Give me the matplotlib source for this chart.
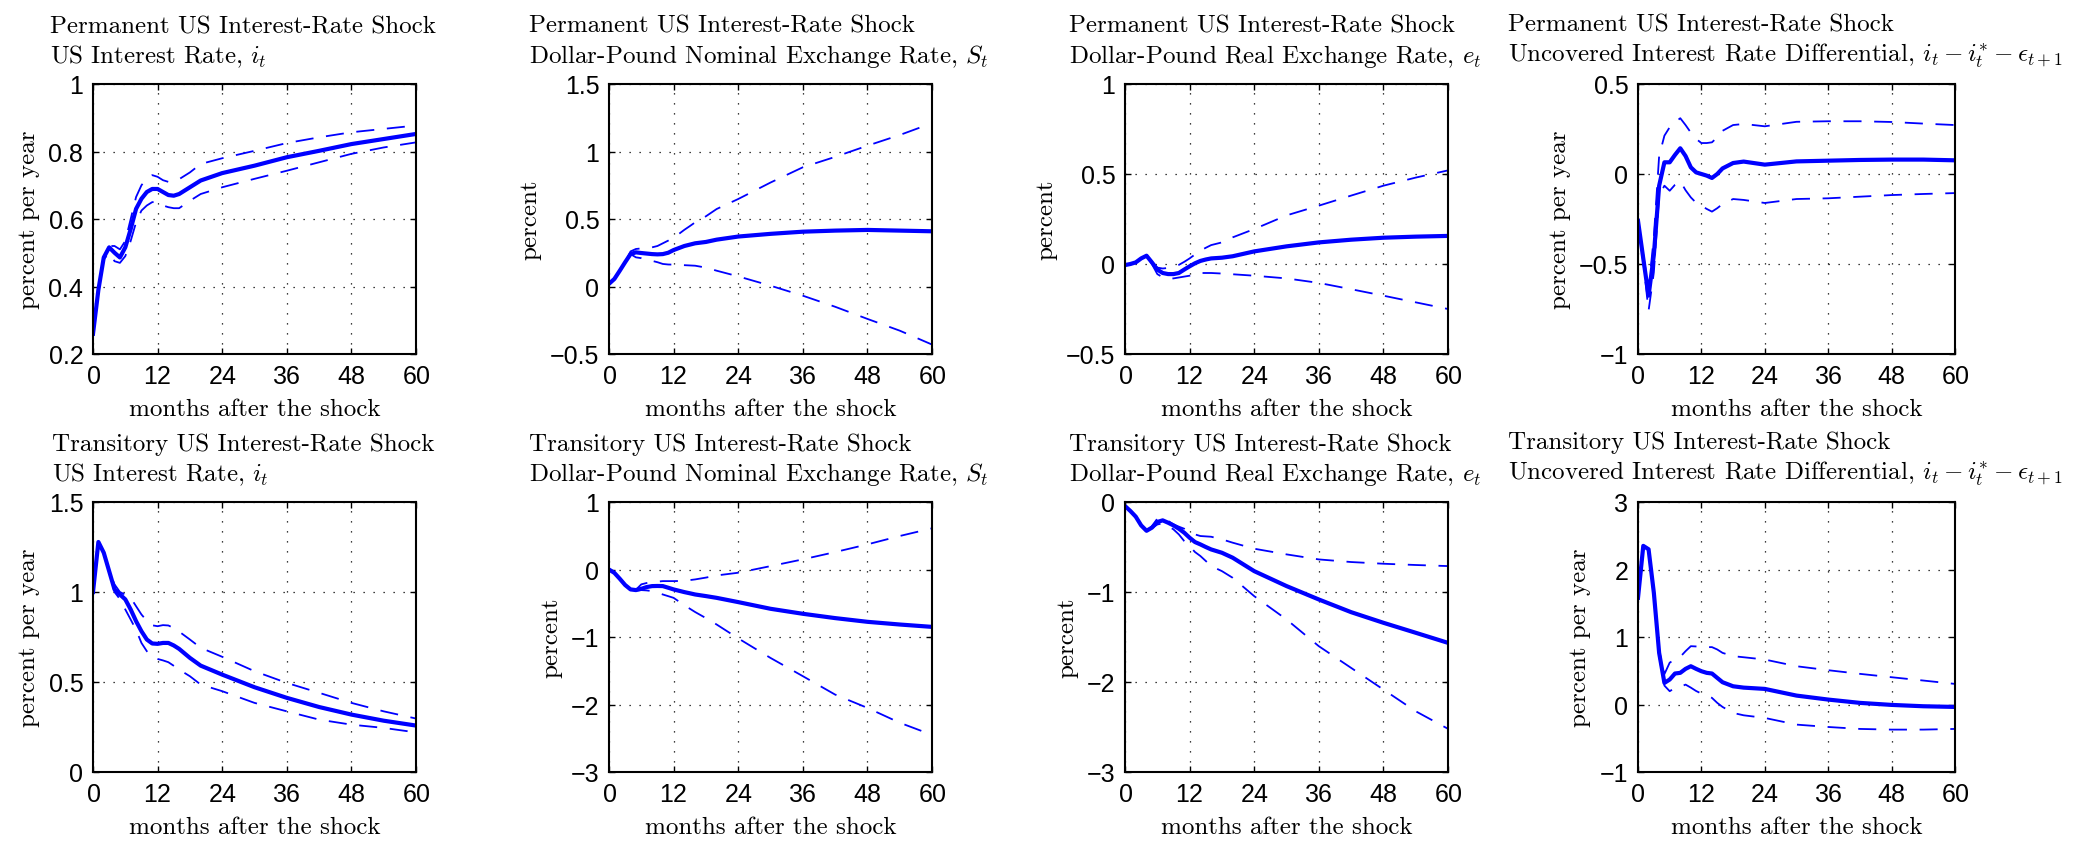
"""Impulse responses to permanent and transitory US interest-rate shocks.

Run:
    python plot.py   -> out.png
"""

import matplotlib
matplotlib.use("Agg")  # headless, no display
import matplotlib.pyplot as plt  # noqa: E402
from matplotlib.ticker import FuncFormatter, MultipleLocator  # noqa: E402

plt.rcParams["font.family"] = "cmr10"
plt.rcParams["mathtext.fontset"] = "cm"
plt.rcParams["axes.formatter.use_mathtext"] = True

months = [0, 1, 2, 3, 4, 5, 6, 7, 8, 9, 10, 11, 12, 13, 14, 15, 16,
          18, 20, 24, 30, 36, 42, 48, 54, 60]

# --- permanent shock -------------------------------------------------------
perm_i_mid = [0.26, 0.39, 0.486, 0.516, 0.50, 0.486, 0.516, 0.57, 0.63, 0.66, 0.68, 0.689, 0.689,
              0.68, 0.671, 0.669, 0.674, 0.694, 0.714, 0.736, 0.758, 0.783, 0.802, 0.822, 0.837, 0.852]
perm_i_hi = [0.26, 0.39, 0.49, 0.52, 0.52, 0.51, 0.535, 0.60, 0.665, 0.70, 0.72, 0.73, 0.725,
             0.715, 0.71, 0.712, 0.718, 0.738, 0.763, 0.78, 0.802, 0.825, 0.842, 0.857, 0.867, 0.877]
perm_i_lo = [0.26, 0.39, 0.48, 0.50, 0.475, 0.47, 0.49, 0.535, 0.59, 0.625, 0.64, 0.65, 0.65,
             0.64, 0.635, 0.632, 0.632, 0.654, 0.674, 0.694, 0.719, 0.743, 0.768, 0.793, 0.812, 0.827]

perm_s_mid = [0.02, 0.056, 0.117, 0.18, 0.24, 0.253, 0.248, 0.244, 0.24, 0.238, 0.24, 0.25, 0.27,
              0.285, 0.30, 0.31, 0.32, 0.33, 0.347, 0.37, 0.39, 0.406, 0.414, 0.419, 0.414, 0.409]
perm_s_hi = [0.02, 0.056, 0.117, 0.18, 0.26, 0.278, 0.282, 0.286, 0.29, 0.30, 0.32, 0.34, 0.364,
             0.39, 0.42, 0.447, 0.475, 0.52, 0.574, 0.648, 0.77, 0.883, 0.96, 1.043, 1.122, 1.21]
perm_s_lo = [0.02, 0.056, 0.117, 0.18, 0.24, 0.216, 0.21, 0.20, 0.19, 0.18, 0.167, 0.163, 0.162,
             0.16, 0.158, 0.156, 0.154, 0.14, 0.117, 0.075, 0.006, -0.068, -0.15, -0.24, -0.327, -0.43]

perm_e_mid = [-0.006, 0.0, 0.009, 0.031, 0.046, 0.009, -0.031, -0.05, -0.056, -0.056, -0.05, -0.031, -0.013,
              0.004, 0.017, 0.025, 0.031, 0.035, 0.043, 0.07, 0.098, 0.12, 0.135, 0.146, 0.152, 0.156]
perm_e_hi = [-0.006, 0.0, 0.009, 0.031, 0.046, 0.01, -0.02, -0.025, -0.022, -0.015, -0.005, 0.012, 0.031,
             0.053, 0.074, 0.09, 0.105, 0.12, 0.148, 0.194, 0.27, 0.324, 0.38, 0.435, 0.48, 0.52]
perm_e_lo = [-0.006, 0.0, 0.009, 0.031, 0.046, 0.0, -0.056, -0.074, -0.083, -0.08, -0.075, -0.07, -0.065,
             -0.057, -0.05, -0.05, -0.05, -0.053, -0.057, -0.065, -0.08, -0.105, -0.14, -0.176, -0.213, -0.25]

perm_u_mid = [-0.26, -0.47, -0.676, -0.45, -0.065, 0.065, 0.065, 0.106, 0.143, 0.10, 0.037, 0.009, 0.0,
              -0.009, -0.022, 0.0, 0.031, 0.061, 0.069, 0.052, 0.07, 0.074, 0.078, 0.08, 0.08, 0.076]
perm_u_hi = [-0.26, -0.45, -0.64, -0.35, 0.10, 0.213, 0.26, 0.287, 0.31, 0.272, 0.23, 0.195, 0.172,
             0.172, 0.176, 0.204, 0.24, 0.272, 0.278, 0.265, 0.29, 0.293, 0.293, 0.289, 0.28, 0.272]
perm_u_lo = [-0.26, -0.49, -0.76, -0.546, -0.12, -0.065, -0.093, -0.06, -0.04, -0.09, -0.13, -0.16, -0.176,
             -0.194, -0.209, -0.19, -0.167, -0.139, -0.144, -0.161, -0.139, -0.135, -0.126, -0.117, -0.111, -0.106]

# --- transitory shock ------------------------------------------------------
tran_i_mid = [1.0, 1.278, 1.218, 1.116, 1.014, 0.986, 0.959, 0.903, 0.838, 0.782, 0.736, 0.714, 0.712,
              0.717, 0.717, 0.703, 0.684, 0.634, 0.591, 0.541, 0.471, 0.412, 0.361, 0.319, 0.285, 0.258]
tran_i_hi = [1.0, 1.278, 1.218, 1.116, 1.042, 1.0, 0.985, 0.968, 0.921, 0.875, 0.84, 0.815, 0.81,
             0.816, 0.814, 0.80, 0.78, 0.736, 0.69, 0.64, 0.56, 0.495, 0.44, 0.384, 0.337, 0.297]
tran_i_lo = [1.0, 1.278, 1.218, 1.116, 1.0, 0.96, 0.903, 0.847, 0.79, 0.717, 0.671, 0.64, 0.628,
             0.62, 0.61, 0.59, 0.569, 0.532, 0.486, 0.449, 0.384, 0.337, 0.291, 0.263, 0.245, 0.22]

tran_s_mid = [0.0, -0.05, -0.137, -0.23, -0.295, -0.305, -0.286, -0.26, -0.246, -0.244, -0.246, -0.27, -0.295,
              -0.315, -0.335, -0.352, -0.37, -0.394, -0.42, -0.483, -0.582, -0.656, -0.72, -0.775, -0.815, -0.85]
tran_s_hi = [0.0, -0.05, -0.137, -0.23, -0.295, -0.30, -0.22, -0.20, -0.187, -0.18, -0.172, -0.172, -0.172,
             -0.17, -0.167, -0.157, -0.147, -0.12, -0.088, -0.048, 0.05, 0.15, 0.258, 0.372, 0.496, 0.61]
tran_s_lo = [0.0, -0.05, -0.137, -0.23, -0.295, -0.31, -0.305, -0.31, -0.32, -0.345, -0.37, -0.395, -0.42,
             -0.475, -0.533, -0.58, -0.63, -0.72, -0.815, -1.02, -1.31, -1.58, -1.853, -2.05, -2.27, -2.45]

tran_e_mid = [-0.045, -0.1, -0.163, -0.26, -0.32, -0.285, -0.222, -0.204, -0.23, -0.26, -0.297, -0.341, -0.397,
              -0.445, -0.471, -0.5, -0.527, -0.564, -0.619, -0.768, -0.934, -1.083, -1.224, -1.342, -1.453, -1.565]
tran_e_hi = [-0.045, -0.1, -0.163, -0.26, -0.32, -0.27, -0.185, -0.18, -0.21, -0.248, -0.274, -0.297, -0.341,
             -0.36, -0.378, -0.382, -0.386, -0.415, -0.452, -0.519, -0.582, -0.638, -0.667, -0.686, -0.70, -0.712]
tran_e_lo = [-0.045, -0.1, -0.163, -0.26, -0.32, -0.29, -0.25, -0.237, -0.267, -0.304, -0.36, -0.434, -0.49,
             -0.556, -0.60, -0.655, -0.712, -0.768, -0.842, -1.046, -1.305, -1.602, -1.843, -2.084, -2.325, -2.52]

tran_u_mid = [1.58, 2.35, 2.30, 1.655, 0.765, 0.32, 0.37, 0.459, 0.469, 0.528, 0.567, 0.528, 0.493,
              0.469, 0.459, 0.394, 0.33, 0.27, 0.25, 0.231, 0.132, 0.073, 0.024, -0.006, -0.026, -0.036]
tran_u_hi = [1.58, 2.37, 2.33, 1.70, 0.80, 0.45, 0.62, 0.666, 0.706, 0.79, 0.864, 0.86, 0.855,
             0.85, 0.85, 0.815, 0.765, 0.716, 0.70, 0.666, 0.567, 0.508, 0.454, 0.404, 0.355, 0.305]
tran_u_lo = [1.58, 2.32, 2.27, 1.60, 0.72, 0.28, 0.197, 0.246, 0.261, 0.295, 0.25, 0.2, 0.162,
             0.132, 0.098, 0.024, -0.036, -0.125, -0.16, -0.199, -0.298, -0.333, -0.362, -0.372, -0.372, -0.362]

shock_names = ["Permanent US Interest-Rate Shock", "Transitory US Interest-Rate Shock"]
var_names = [
    r"US Interest Rate, $i_t$",
    r"Dollar-Pound Nominal Exchange Rate, $S_t$",
    r"Dollar-Pound Real Exchange Rate, $e_t$",
    r"Uncovered Interest Rate Differential, $i_t - i_t^{*} - \epsilon_{t+1}$",
]
ylabels = ["percent per year", "percent", "percent", "percent per year"]
xticks = [0, 12, 24, 36, 48, 60]

# (ylim, ytick step) per panel, row by row
ylims = [[(0.2, 1.0), (-0.5, 1.5), (-0.5, 1.0), (-1.0, 0.5)],
         [(0.0, 1.5), (-3.0, 1.0), (-3.0, 0.0), (-1.0, 3.0)]]
ysteps = [[0.2, 0.5, 0.5, 0.5],
          [0.5, 1.0, 1.0, 1.0]]

series = [
    [(perm_i_mid, perm_i_lo, perm_i_hi), (perm_s_mid, perm_s_lo, perm_s_hi),
     (perm_e_mid, perm_e_lo, perm_e_hi), (perm_u_mid, perm_u_lo, perm_u_hi)],
    [(tran_i_mid, tran_i_lo, tran_i_hi), (tran_s_mid, tran_s_lo, tran_s_hi),
     (tran_e_mid, tran_e_lo, tran_e_hi), (tran_u_mid, tran_u_lo, tran_u_hi)],
]

W, H = 2074, 845
LEFTS = [93, 609, 1125, 1638]
WIDTHS = [323, 323, 323, 317]
TOPS = [85, 503]
HEIGHT = 270
BLUE = (0, 0, 1)
TICK_FONT = "Liberation Sans"


def fmt_tick(v, _pos):
    s = f"{v:g}"
    return s.replace("-", "\u2212")


def draw_panel(ax, mid, lo, hi, ylim, ystep, title, ylabel):
    ax.plot(months, hi, color=BLUE, lw=1.3, dashes=(10, 7))
    ax.plot(months, lo, color=BLUE, lw=1.3, dashes=(10, 7))
    ax.plot(months, mid, color=BLUE, lw=3.0, solid_joinstyle="round")
    ax.set_xlim(0, 60)
    ax.set_ylim(*ylim)
    ax.set_xticks(xticks)
    ax.yaxis.set_major_locator(MultipleLocator(ystep))
    ax.yaxis.set_major_formatter(FuncFormatter(fmt_tick))
    ax.grid(True, color="black", lw=0.9, linestyle=(0, (1, 7)))
    ax.set_axisbelow(True)
    for sp in ax.spines.values():
        sp.set_linewidth(1.5)
    ax.tick_params(direction="in", length=4, width=1, top=True, right=True,
                   labelsize=18, pad=7)
    for lab in ax.get_xticklabels() + ax.get_yticklabels():
        lab.set_fontfamily(TICK_FONT)
    ax.set_xlabel("months after the shock", fontsize=18, labelpad=7)
    ax.set_ylabel(ylabel, fontsize=18, labelpad=6)
    ax.annotate(title, xy=(0.465, 1), xycoords="axes fraction",
                xytext=(0, 11), textcoords="offset points",
                ha="center", va="bottom", multialignment="left",
                fontsize=18, linespacing=1.25)


def main():
    fig = plt.figure(figsize=(W / 100, H / 100), dpi=100)
    for r in range(2):
        for c in range(4):
            rect = [LEFTS[c] / W, 1 - (TOPS[r] + HEIGHT) / H, WIDTHS[c] / W, HEIGHT / H]
            ax = fig.add_axes(rect)
            mid, lo, hi = series[r][c]
            title = shock_names[r] + "\n" + var_names[c]
            draw_panel(ax, mid, lo, hi, ylims[r][c], ysteps[r][c], title, ylabels[c])
    fig.savefig("out.png", dpi=100)
    plt.close(fig)


if __name__ == "__main__":
    main()
